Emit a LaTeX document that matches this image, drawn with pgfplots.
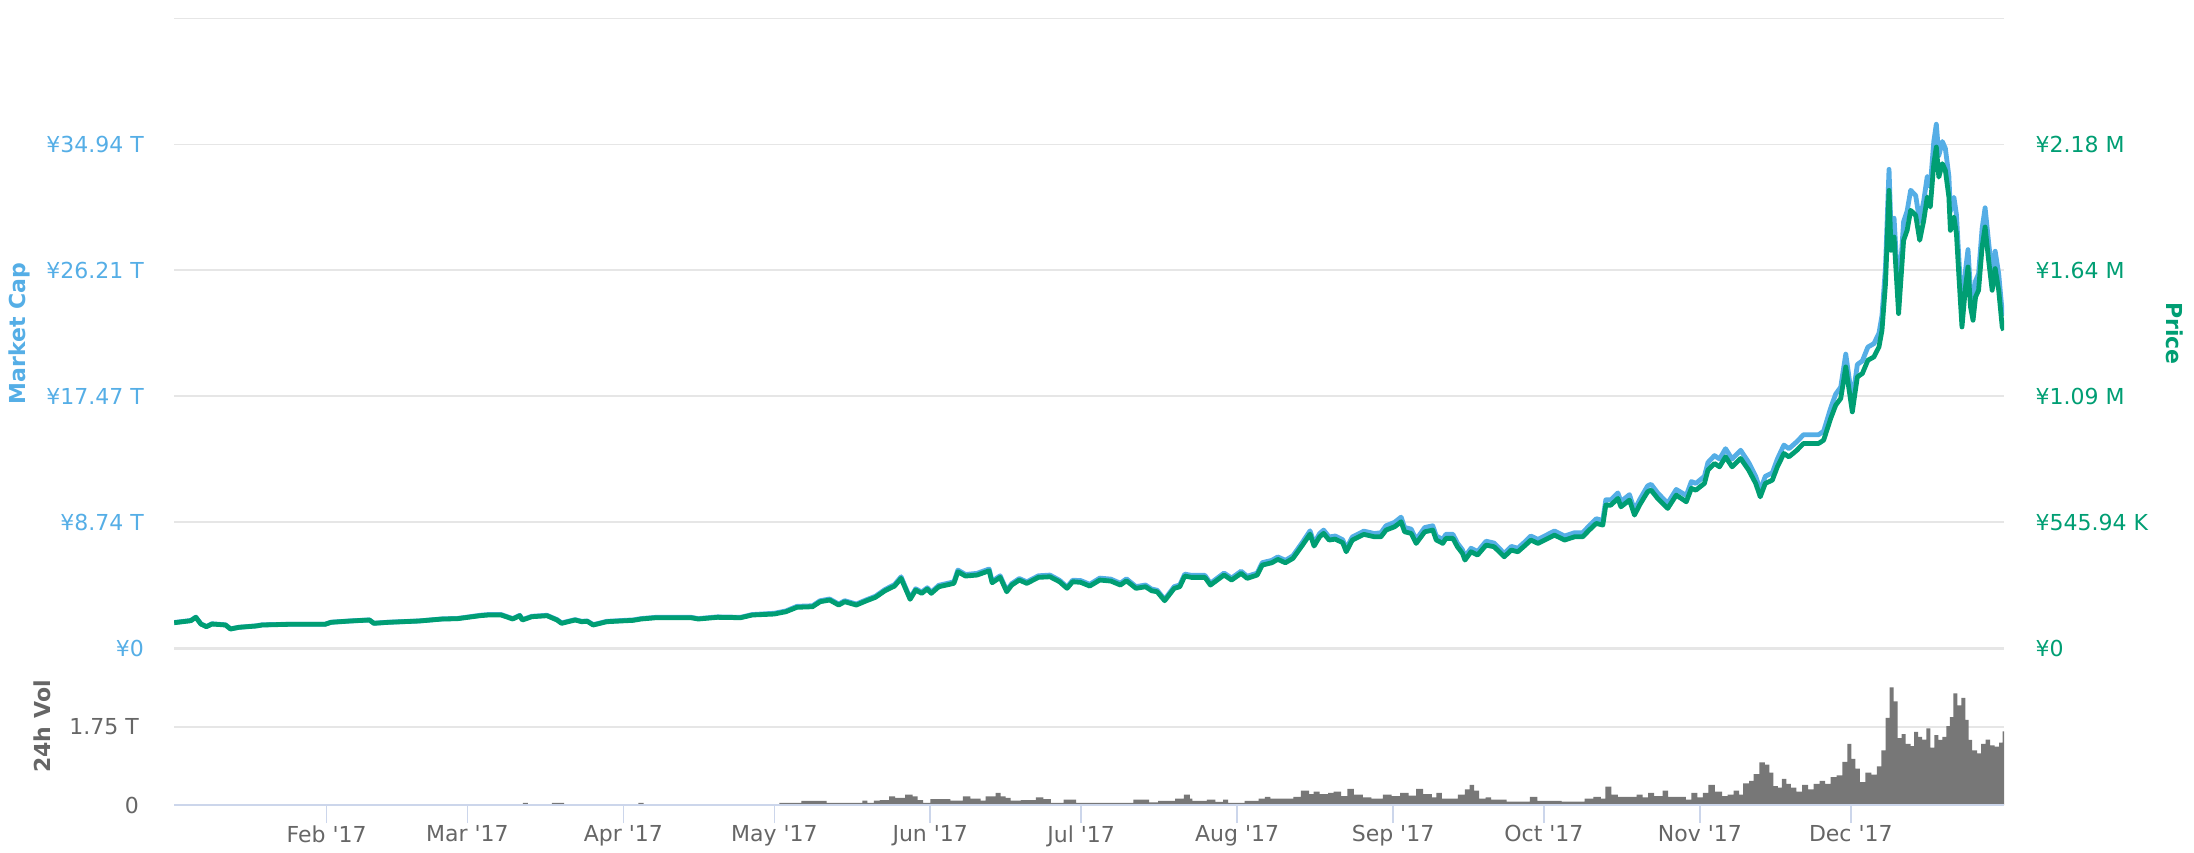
\documentclass[border=0pt]{standalone}
\usepackage{fontspec}
\setmainfont{DejaVu Sans}
\newfontfamily\dv{DejaVu Sans}
\usepackage{pgfplots}
\usepackage{pgfplotstable}
\pgfplotsset{compat=1.18}
\definecolor{mcap}{HTML}{55AEE6}
\definecolor{price}{HTML}{009E73}
\definecolor{vol}{HTML}{777777}
\definecolor{gridc}{HTML}{E6E6E6}
\definecolor{axc}{HTML}{CCD6EB}
\definecolor{txt}{HTML}{666666}

\pgfplotstableread{
d price mcap
0.7 109.6 1.77
4.0 118.3 1.91
5.0 133.0 2.14
6.0 104.0 1.68
7.1 92.3 1.49
8.2 104.0 1.68
10.9 99.7 1.61
11.9 82.3 1.33
13.6 89.7 1.44
17.0 95.3 1.54
18.2 99.7 1.61
23.5 102.7 1.65
30.7 102.7 1.65
31.9 111.4 1.79
35.7 117.0 1.88
39.5 121.3 1.95
40.4 107.0 1.72
43.3 111.4 1.79
49.4 117.0 1.88
54.0 125.7 2.02
57.0 127.0 2.05
61.5 140.0 2.27
63.1 143.0 2.32
65.7 143.0 2.32
68.0 125.7 2.04
69.4 140.0 2.27
69.9 121.3 1.97
71.8 135.6 2.20
74.8 140.0 2.27
76.8 121.3 1.97
77.7 107.0 1.74
80.4 121.3 1.97
81.7 114.0 1.85
82.8 115.7 1.88
84.0 99.7 1.62
86.7 114.0 1.85
92.0 120.0 1.95
93.5 125.7 2.04
96.5 131.3 2.13
103.4 131.3 2.13
104.9 125.7 2.04
108.7 133.0 2.16
113.3 131.3 2.13
115.6 143.0 2.32
120.0 147.3 2.41
122.3 157.3 2.57
124.5 176.4 2.89
127.6 179.0 2.93
129.1 200.6 3.28
131.0 208.0 3.40
132.8 186.3 3.05
134.0 200.6 3.28
136.3 186.3 3.05
138.2 203.7 3.33
140.1 219.7 3.59
142.0 248.3 4.06
143.9 268.6 4.40
145.2 302.0 4.94
147.0 211.0 3.45
148.1 251.3 4.11
149.3 237.0 3.88
150.4 255.6 4.18
151.2 237.0 3.88
152.7 265.6 4.35
155.7 280.3 4.59
156.5 330.6 5.41
158.0 312.0 5.10
160.3 316.3 5.18
162.7 334.9 5.48
163.3 282.9 4.63
164.9 306.3 5.01
166.2 243.9 3.99
167.2 273.0 4.47
168.7 294.6 4.82
170.2 280.3 4.59
172.5 306.3 5.01
174.8 308.9 5.06
176.7 287.3 4.70
178.2 258.7 4.23
179.3 287.3 4.70
180.9 284.7 4.68
182.7 268.6 4.42
184.7 294.6 4.85
186.9 290.3 4.78
188.8 273.0 4.49
190.0 291.6 4.80
191.9 258.7 4.26
193.8 265.6 4.37
195.0 248.3 4.09
196.1 243.9 4.01
197.2 215.4 3.54
197.6 205.0 3.37
199.5 258.7 4.26
200.6 265.6 4.37
201.6 312.0 5.13
202.9 306.3 5.04
205.6 306.3 5.04
206.7 273.0 4.49
209.4 316.3 5.20
210.9 294.6 4.85
212.8 323.7 5.33
214.0 302.0 4.97
216.0 316.3 5.20
217.0 359.6 5.92
218.9 369.6 6.08
220.1 384.3 6.32
221.6 369.6 6.08
223.1 388.7 6.40
225.0 446.3 7.34
226.5 494.0 8.13
227.3 442.0 7.27
228.4 482.3 7.94
229.2 497.0 8.18
230.3 468.0 7.70
231.5 472.3 7.77
233.0 456.3 7.51
233.7 417.3 6.87
234.9 468.0 7.70
237.2 492.7 8.11
239.3 482.3 7.94
240.6 482.3 8.00
241.6 511.3 8.48
243.3 525.6 8.72
244.6 547.3 9.08
245.3 503.9 8.36
246.6 497.0 8.25
247.6 453.7 7.53
249.3 503.9 8.36
250.9 511.3 8.48
251.6 468.0 7.77
252.9 453.7 7.53
253.5 475.3 7.89
254.9 475.3 7.89
255.8 438.9 7.28
256.8 410.3 6.81
257.3 381.3 6.33
258.5 417.3 6.92
259.8 403.0 6.69
261.5 446.3 7.41
263.1 438.9 7.28
265.1 395.6 6.56
266.5 424.6 7.05
267.8 417.3 6.92
269.1 442.0 7.33
270.4 468.0 7.77
271.8 453.7 7.53
275.1 489.6 8.12
277.1 468.0 7.77
279.1 482.3 8.00
280.7 482.3 8.00
282.0 511.3 8.48
283.4 540.3 8.97
284.7 533.0 8.84
285.3 619.6 10.28
286.3 619.6 10.28
287.7 648.6 10.76
288.3 612.3 10.16
290.0 641.3 10.64
291.0 576.3 9.56
292.0 619.6 10.28
293.6 677.2 11.24
294.3 684.6 11.36
295.6 648.6 10.76
297.6 605.3 10.04
299.3 662.9 11.00
301.3 633.9 10.58
302.3 692.0 11.55
303.2 684.6 11.42
304.9 713.6 11.91
305.6 771.3 12.87
306.9 800.3 13.35
307.9 785.6 13.11
309.1 828.9 13.83
310.4 785.6 13.11
312.1 822.0 13.72
313.7 771.3 12.87
315.1 713.6 11.91
316.0 655.6 10.94
317.0 713.6 11.91
318.4 727.9 12.15
319.4 785.6 13.11
320.7 843.6 14.08
321.7 828.9 13.83
323.3 857.9 14.32
324.6 887.0 14.80
326.0 887.0 14.80
327.6 887.0 14.80
328.6 901.3 15.04
330.0 995.3 16.65
331.0 1052.9 17.62
332.0 1081.9 18.10
333.0 1218.9 20.39
334.3 1023.9 17.13
335.3 1175.5 19.67
336.3 1190.3 19.92
337.4 1247.9 20.88
338.6 1262.2 21.12
339.6 1305.5 21.84
340.2 1377.9 23.06
340.9 1580.2 26.44
341.6 1984.5 33.21
342.0 1724.5 28.86
342.6 1782.2 29.82
343.5 1450.3 24.27
344.5 1767.9 29.58
345.2 1811.2 30.31
345.9 1897.9 31.76
346.9 1876.2 31.39
347.7 1767.9 29.58
348.5 1854.5 31.03
349.2 1955.5 32.72
349.8 1912.2 32.00
350.5 2100.2 35.14
351.0 2172.1 36.34
351.5 2042.1 34.17
352.2 2100.2 35.14
352.8 2071.2 34.66
353.5 1955.5 32.72
353.8 1811.2 30.31
354.5 1868.8 31.27
355.0 1796.9 30.07
355.5 1608.8 26.92
356.1 1392.2 23.29
356.8 1565.5 26.19
357.3 1652.2 27.64
357.8 1478.9 24.74
358.3 1421.2 23.78
358.8 1522.2 25.47
359.4 1551.2 25.96
360.1 1738.8 29.09
360.7 1825.5 30.54
361.4 1681.2 28.13
362.1 1551.2 25.96
362.7 1645.2 27.53
363.4 1551.2 25.96
364.1 1392.2 23.29
364.4 1377.9 23.06
}\pricedata

\pgfplotstableread{
d v
0.7 0
70 0.045
71 0
75.8 0.05
78.2 0
93 0.05
94 0
121 0.045
124 0.05
125.4 0.09
130.4 0.05
135 0.045
137.5 0.10
138.5 0.05
139.8 0.10
141 0.11
142.8 0.19
144 0.16
146 0.23
147.5 0.19
148.5 0.11
149.6 0.05
151 0.13
155 0.10
157.5 0.19
159 0.14
161 0.10
162 0.19
164 0.27
165 0.19
166 0.16
167 0.10
169 0.11
172 0.17
173.5 0.13
175 0.05
177.5 0.12
180 0.05
184.8 0.045
191.4 0.12
194.5 0.06
196.3 0.09
199.7 0.14
201.4 0.23
202.6 0.14
203.1 0.09
206.0 0.12
207.7 0.07
209.2 0.12
210.2 0.045
213.5 0.09
216.3 0.14
217.5 0.18
218.6 0.14
223.2 0.18
224.7 0.32
226.3 0.24
227.2 0.30
228.4 0.24
230.1 0.27
231.2 0.30
232.7 0.20
233.9 0.36
235.2 0.23
237.0 0.17
238.7 0.14
241.0 0.23
242.7 0.20
244.4 0.27
246.1 0.21
247.6 0.36
249.0 0.24
250.7 0.17
251.6 0.27
252.7 0.14
255.9 0.23
257.3 0.35
258.2 0.45
259.1 0.32
260.1 0.14
261.4 0.17
262.5 0.12
265.6 0.075
270.2 0.18
271.7 0.09
276.5 0.075
281.1 0.14
282.8 0.18
284.3 0.14
285.2 0.41
286.4 0.23
287.7 0.18
291.4 0.23
292.6 0.17
293.7 0.27
294.9 0.20
296.6 0.32
297.7 0.18
301.2 0.12
302.3 0.27
303.5 0.17
304.6 0.27
305.7 0.45
307.0 0.30
308.4 0.20
309.5 0.23
310.7 0.32
311.8 0.23
312.6 0.48
313.8 0.54
314.7 0.69
315.8 0.95
316.9 0.90
317.8 0.72
318.6 0.42
319.5 0.39
320.3 0.58
321.2 0.47
322.1 0.39
323.2 0.30
324.3 0.45
325.5 0.35
326.6 0.47
327.8 0.54
328.9 0.47
330.0 0.62
331.2 0.66
332.3 0.96
333.3 1.36
334.1 1.03
334.9 0.81
335.8 0.51
336.9 0.72
338.1 0.68
339.2 0.86
340.1 1.22
340.9 1.94
341.7 2.62
342.5 2.31
343.3 1.49
344.1 1.58
344.9 1.36
345.9 1.31
346.6 1.63
347.4 1.52
348.2 1.46
349.0 1.71
349.8 1.28
350.6 1.56
351.4 1.45
352.2 1.52
353.0 1.76
353.7 1.96
354.4 2.49
355.2 2.22
356.0 2.39
356.8 1.90
357.4 1.45
358.1 1.22
359.1 1.15
359.9 1.36
360.8 1.46
361.7 1.33
362.6 1.30
363.5 1.39
364.2 1.64
364.5 1.64
}\voldata

\begin{document}
\begin{tikzpicture}
\useasboundingbox (0,0) rectangle (1097pt,426pt);
% market cap axis (left)
\begin{axis}[
  at={(87.1pt,102pt)}, anchor=south west, scale only axis,
  width=915pt, height=314.75pt,
  xmin=0.7, xmax=364.5, ymin=0, ymax=43.675,
  hide x axis,
  axis line style={draw=none},
  ytick={0,8.735,17.47,26.205,34.94,43.675},
  yticklabels={¥0,¥8.74 T,¥17.47 T,¥26.21 T,¥34.94 T,{}},
  ytick style={draw=none},
  ymajorgrids, major grid style={draw=gridc, line width=0.8pt},
  yticklabel style={font=\dv\fontsize{11}{13}\selectfont, text=mcap, inner sep=0pt, anchor=east, xshift=-15pt},
]
\addplot[mcap, line width=2.4pt, line join=round] table[x=d,y=mcap]{\pricedata};
\end{axis}
% price axis (right)
\begin{axis}[
  at={(87.1pt,102pt)}, anchor=south west, scale only axis,
  width=915pt, height=314.75pt,
  xmin=0.7, xmax=364.5, ymin=0, ymax=2729.7,
  hide x axis,
  axis line style={draw=none},
  ytick={0,545.94,1091.88,1637.82,2183.76,2729.7},
  yticklabels={¥0,¥545.94 K,¥1.09 M,¥1.64 M,¥2.18 M,{}},
  yticklabel pos=right,
  ytick style={draw=none},
  yticklabel style={font=\dv\fontsize{11}{13}\selectfont, text=price, inner sep=0pt, anchor=west, xshift=15.5pt},
]
\addplot[price, line width=2.4pt, line join=round] table[x=d,y=price]{\pricedata};
\end{axis}
% volume axis
\begin{axis}[
  at={(87.1pt,23.5pt)}, anchor=south west, scale only axis,
  width=915pt, height=78.5pt,
  xmin=0.7, xmax=364.5, ymin=0, ymax=3.5,
  axis line style={draw=none},
  xtick={31,59,90,120,151,181,212,243,273,304,334},
  xticklabels={Feb '17,Mar '17,Apr '17,May '17,Jun '17,Jul '17,Aug '17,Sep '17,Oct '17,Nov '17,Dec '17},
  xtick pos=bottom, tick align=outside, major tick length=9pt,
  xtick style={draw=axc, line width=0.8pt},
  ytick={0,1.75,3.5},
  yticklabels={0,1.75 T,{}},
  ytick style={draw=none},
  ymajorgrids, major grid style={draw=gridc, line width=1pt},
  yticklabel style={font=\dv\fontsize{11}{13}\selectfont, text=txt, inner sep=0pt, anchor=east, xshift=-8.5pt},
  xticklabel style={font=\dv\fontsize{11}{13}\selectfont, text=txt, inner sep=0pt, anchor=north, yshift=-1pt},
]
\addplot[const plot mark left, fill=vol, draw=none] table[x=d,y=v]{\voldata} \closedcycle;
\draw[gridc, line width=2pt] (rel axis cs:0,1) -- (rel axis cs:1,1);
\draw[axc, line width=1.2pt] (rel axis cs:0,0) -- (rel axis cs:1,0);
\draw[axc, line width=1pt] ([xshift=-2.5pt]rel axis cs:0,0) -- ([xshift=-2.5pt]rel axis cs:0,1);
\end{axis}
\node[rotate=90, font=\dv\bfseries\fontsize{11}{13}\selectfont, text=mcap] at (9.5pt,259.25pt) {Market Cap};
\node[rotate=-90, font=\dv\bfseries\fontsize{11}{13}\selectfont, text=price] at (1087.5pt,259.25pt) {Price};
\node[rotate=90, font=\dv\bfseries\fontsize{11}{13}\selectfont, text=txt] at (21pt,62.75pt) {24h Vol};
\end{tikzpicture}
\end{document}
